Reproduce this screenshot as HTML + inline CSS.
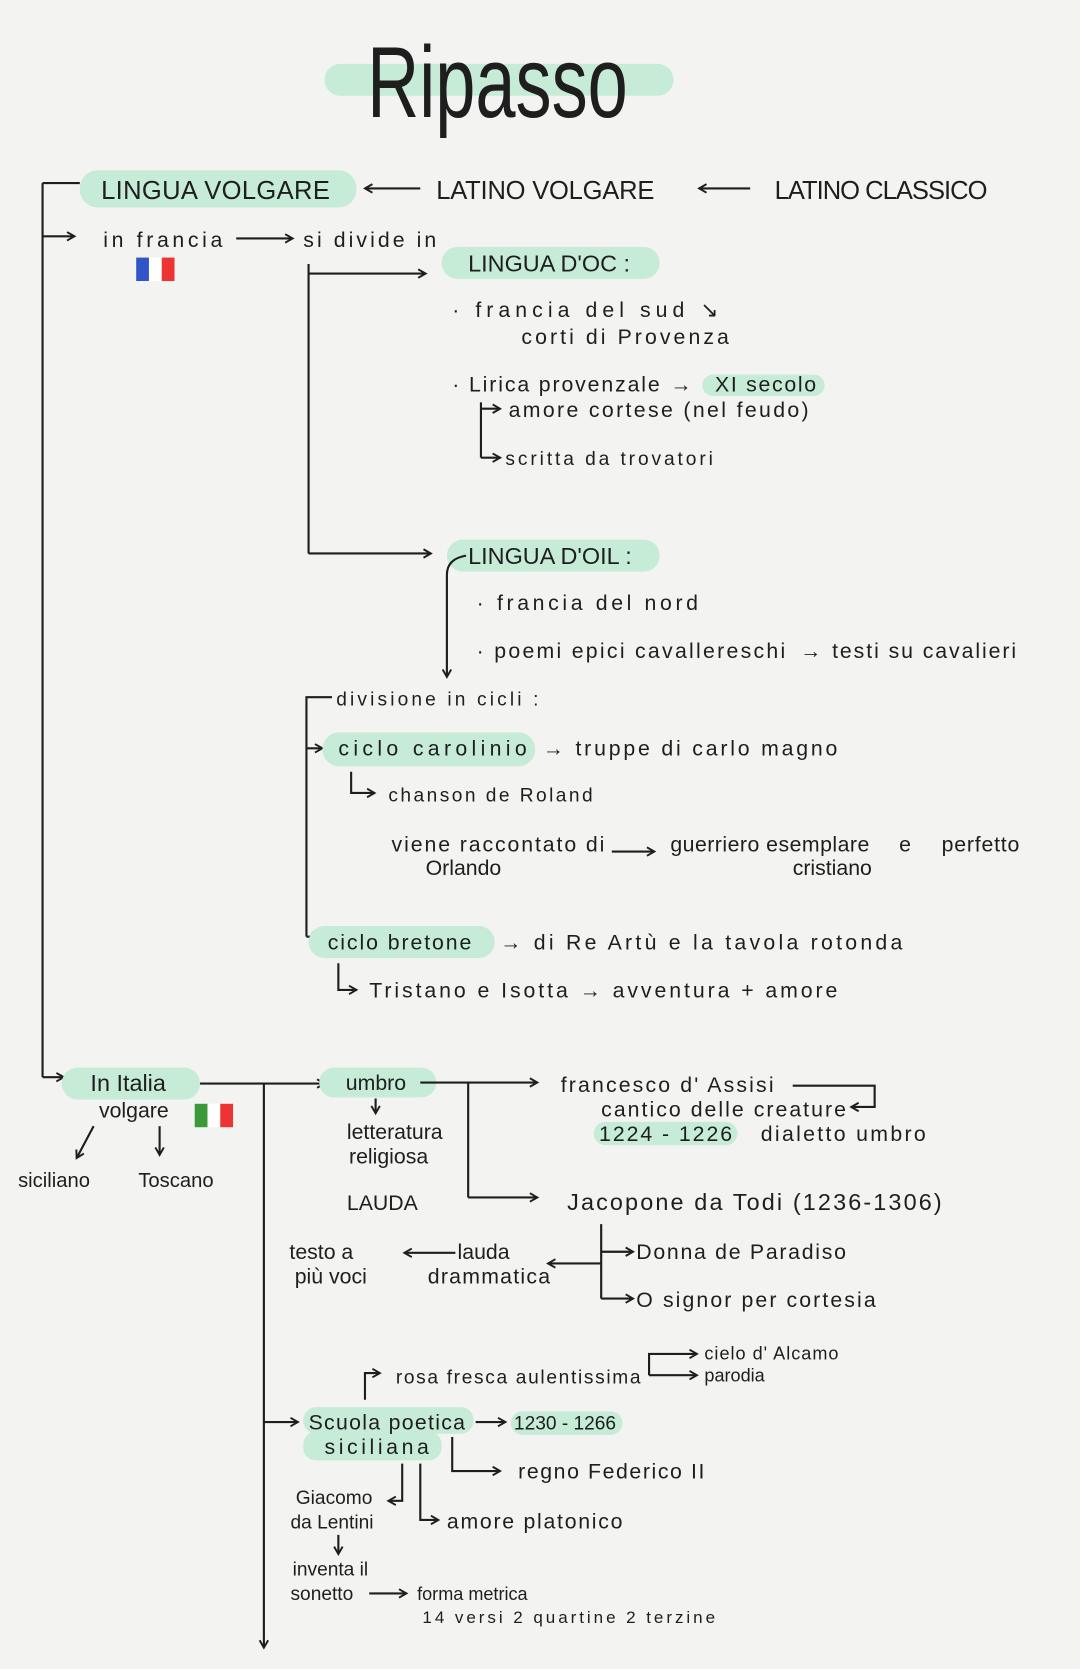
<!DOCTYPE html>
<html><head><meta charset="utf-8"><style>
html,body{margin:0;padding:0;background:#f3f3f1;}
svg{display:block}
text{font-family:"Liberation Sans",sans-serif;fill:#1e1e1e;font-size:20px;}
.h{fill:#c6ebd6;}
.l{stroke:#1e1e1e;stroke-width:2;fill:none;}
.a{stroke:#1e1e1e;stroke-width:2;fill:none;marker-end:url(#ar);}
</style></head><body>
<svg width="1080" height="1669" viewBox="0 0 1015 1568" preserveAspectRatio="none" xmlns="http://www.w3.org/2000/svg">
<defs><marker id="ar" markerWidth="10" markerHeight="10" refX="8" refY="5" orient="auto" markerUnits="userSpaceOnUse"><path d="M1,1 L8,5 L1,9" fill="none" stroke="#1e1e1e" stroke-width="1.8"/></marker></defs>
<rect width="1015" height="1568" fill="#f3f3f1"/>
<rect class="h" x="305" y="60" width="328" height="30" rx="15"/>
<text x="345" y="110" textLength="245" lengthAdjust="spacingAndGlyphs" style="font-size:95px">Ripasso</text>
<path class="l" d="M40,172 H75 M40,172 V1012"/>
<path class="a" d="M40,222 H70"/>
<path class="a" d="M40,1012 H60"/>
<rect class="h" x="75" y="160" width="260" height="35" rx="17"/>
<text x="95" y="187" textLength="215" style="font-size:24px">LINGUA VOLGARE</text>
<path class="a" d="M395,177 H343"/>
<text x="410" y="187" textLength="205" style="font-size:24px">LATINO VOLGARE</text>
<path class="a" d="M705,177 H657"/>
<text x="728" y="187" textLength="200" style="font-size:24px">LATINO CLASSICO</text>
<text x="97" y="232" textLength="112">in francia</text>
<path class="a" d="M222,224 H275"/>
<text x="285" y="232" textLength="125">si divide in</text>
<rect x="128" y="242" width="12" height="22" fill="#2f55c8"/><rect x="140" y="242" width="12" height="22" fill="#fff"/><rect x="152" y="242" width="12" height="22" fill="#e33"/>
<path class="l" d="M290,248 V520"/>
<path class="a" d="M290,257 H400"/>
<path class="a" d="M290,520 H405"/>
<rect class="h" x="415" y="232" width="205" height="30" rx="15"/>
<text x="440" y="255" style="font-size:22px">LINGUA D'OC :</text>
<text x="425" y="298" textLength="250">· francia del sud ↘</text>
<text x="490" y="323" textLength="195">corti di Provenza</text>
<rect class="h" x="660" y="352" width="115" height="20" rx="10"/>
<text x="425" y="368" textLength="195">· Lirica provenzale</text>
<text x="630" y="368">→</text>
<text x="672" y="368" textLength="95">XI secolo</text>
<path class="l" d="M452,378 V430"/>
<path class="a" d="M452,384 H470"/>
<path class="a" d="M452,430 H470"/>
<text x="478" y="392" textLength="282">amore cortese (nel feudo)</text>
<text x="475" y="437" textLength="195" style="font-size:18px">scritta da trovatori</text>
<rect class="h" x="420" y="507" width="200" height="30" rx="15"/>
<text x="440" y="530" style="font-size:22px">LINGUA D'OIL :</text>
<path class="a" d="M438,522 Q420,525 420,540 V636"/>
<text x="448" y="573" textLength="208">· francia del nord</text>
<text x="448" y="618" textLength="290">· poemi epici cavallereschi</text>
<text x="752" y="618">→</text>
<text x="782" y="618" textLength="173">testi su cavalieri</text>
<path class="l" d="M312,655 H288 V880"/>
<text x="316" y="663" textLength="190" style="font-size:18px">divisione in cicli :</text>
<path class="a" d="M288,703 H303"/>
<rect class="h" x="303" y="688" width="200" height="32" rx="16"/>
<text x="318" y="710" textLength="177">ciclo  carolinio</text>
<text x="510" y="710" textLength="277">→ truppe di carlo magno</text>
<path class="a" d="M330,725 V745 H352"/>
<text x="365" y="753" textLength="192" style="font-size:18px">chanson de Roland</text>
<text x="368" y="800" textLength="200">viene raccontato di</text>
<text x="400" y="822">Orlando</text>
<path class="a" d="M575,800 H615"/>
<text x="630" y="800" textLength="187">guerriero esemplare</text>
<text x="745" y="822">cristiano</text>
<text x="845" y="800">e</text>
<text x="885" y="800" textLength="73">perfetto</text>
<path class="a" d="M288,880 H300"/>
<rect class="h" x="290" y="870" width="175" height="30" rx="15"/>
<text x="308" y="892" textLength="135">ciclo bretone</text>
<text x="470" y="892" textLength="378">→  di Re Artù  e la tavola rotonda</text>
<path class="a" d="M318,905 V930 H335"/>
<text x="347" y="937" textLength="440">Tristano e Isotta  →  avventura + amore</text>
<rect class="h" x="58" y="1003" width="130" height="30" rx="15"/>
<text x="85" y="1025" style="font-size:22px">In Italia</text>
<text x="93" y="1050">volgare</text>
<rect x="183" y="1037" width="12" height="22" fill="#3a9a3a"/><rect x="195" y="1037" width="12" height="22" fill="#fff"/><rect x="207" y="1037" width="12" height="22" fill="#e33"/>
<path class="a" d="M88,1058 L72,1088"/>
<path class="a" d="M150,1058 V1085"/>
<text x="17" y="1115" style="font-size:19px">siciliano</text>
<text x="130" y="1115" style="font-size:19px">Toscano</text>
<path class="a" d="M188,1018 H305"/>
<path class="a" d="M248,1018 V1548"/>
<path class="a" d="M248,1336 H280"/>
<rect class="h" x="300" y="1003" width="110" height="28" rx="14"/>
<text x="325" y="1024">umbro</text>
<path class="a" d="M395,1017 H505"/>
<path class="l" d="M440,1017 V1125"/>
<path class="a" d="M440,1125 H505"/>
<path class="a" d="M353,1032 V1046"/>
<text x="326" y="1070">letteratura</text>
<text x="328" y="1093">religiosa</text>
<text x="326" y="1137">LAUDA</text>
<text x="527" y="1026" textLength="200">francesco d' Assisi</text>
<path class="a" d="M745,1020 H822 V1040 H800"/>
<text x="565" y="1049" textLength="230">cantico delle creature</text>
<rect class="h" x="558" y="1054" width="135" height="22" rx="11"/>
<text x="563" y="1072" textLength="125">1224 - 1226</text>
<text x="715" y="1072" textLength="155">dialetto umbro</text>
<text x="533" y="1137" textLength="352" style="font-size:22px">Jacopone da Todi  (1236-1306)</text>
<path class="l" d="M565,1150 V1220"/>
<path class="a" d="M565,1176 H595"/>
<path class="a" d="M565,1220 H595"/>
<path class="a" d="M565,1187 H515"/>
<text x="598" y="1183" textLength="197">Donna de Paradiso</text>
<text x="598" y="1228" textLength="225">O signor per cortesia</text>
<text x="430" y="1183">lauda</text>
<text x="402" y="1206" textLength="115">drammatica</text>
<path class="a" d="M428,1177 H380"/>
<text x="272" y="1183">testo a</text>
<text x="277" y="1206">più voci</text>
<path class="a" d="M343,1315 V1290 H357"/>
<text x="372" y="1300" textLength="230" style="font-size:18px">rosa  fresca  aulentissima</text>
<path class="a" d="M610,1292 H655"/>
<path class="a" d="M610,1292 V1272 H655"/>
<text x="662" y="1298" style="font-size:17px">parodia</text>
<text x="662" y="1277" textLength="126" style="font-size:17px">cielo d' Alcamo</text>
<rect class="h" x="285" y="1322" width="160" height="25" rx="12"/>
<rect class="h" x="285" y="1345" width="130" height="27" rx="12"/>
<text x="290" y="1343" textLength="147">Scuola poetica</text>
<text x="305" y="1366" textLength="98">siciliana</text>
<path class="a" d="M447,1336 H475"/>
<rect class="h" x="480" y="1326" width="105" height="22" rx="11"/>
<text x="483" y="1343" style="font-size:18px">1230 - 1266</text>
<path class="a" d="M425,1350 V1382 H470"/>
<text x="487" y="1389" textLength="175">regno Federico II</text>
<path class="a" d="M378,1375 V1410 H365"/>
<text x="278" y="1413" style="font-size:18px">Giacomo</text>
<text x="273" y="1436" style="font-size:18px">da Lentini</text>
<path class="a" d="M318,1442 V1460"/>
<text x="275" y="1480" style="font-size:18px">inventa il</text>
<text x="273" y="1503" style="font-size:18px">sonetto</text>
<path class="a" d="M347,1497 H382"/>
<text x="392" y="1503" style="font-size:17px">forma metrica</text>
<text x="397" y="1525" textLength="275" style="font-size:16px">14 versi   2 quartine   2 terzine</text>
<path class="a" d="M395,1375 V1428 H412"/>
<text x="420" y="1436" textLength="165">amore platonico</text>
</svg>
</body></html>
